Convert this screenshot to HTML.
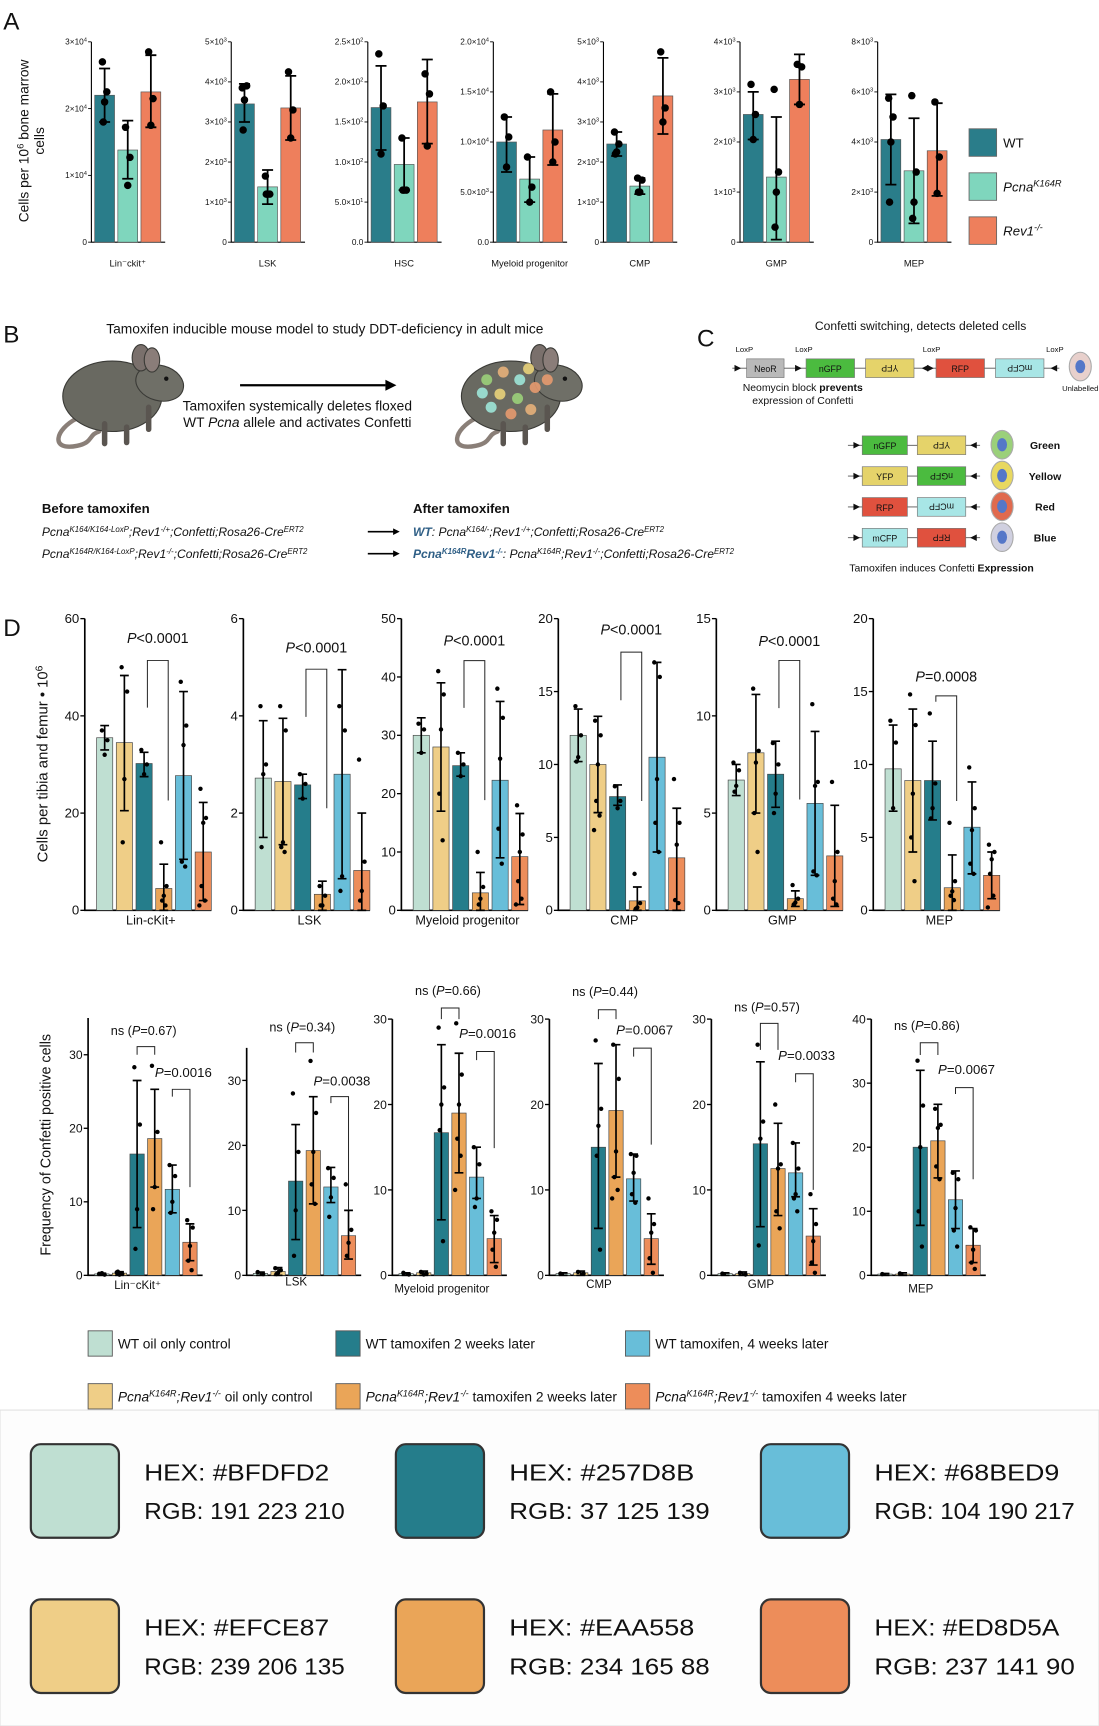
<!DOCTYPE html>
<html><head><meta charset="utf-8">
<style>
html,body{margin:0;padding:0;background:#fff;}
svg{display:block;}
text{font-family:"Liberation Sans Narrow","Liberation Sans",sans-serif;fill:#111;}
.pal{font-family:"Liberation Sans",sans-serif;}
</style></head>
<body>
<svg id="fig" xmlns="http://www.w3.org/2000/svg" width="1099" height="1726" viewBox="0 0 998 1568" preserveAspectRatio="none">
<rect x="0" y="0" width="998" height="1568" fill="#fff"/>
<rect x="0" y="1281" width="998" height="287" fill="#fdfdfd" stroke="#e2e2e2" stroke-width="1"/>
</svg>
<script>
// ===================== DATA =====================
// Panel A
const aCats=['Lin\u207Bckit\u207A','LSK','HSC','Myeloid progenitor','CMP','GMP','MEP'];
const aMax=[30000,5000,250,20000,5000,4000,8000];
const aTicks=[[0,10000,20000,30000],[0,1000,2000,3000,4000,5000],[0,50,100,150,200,250],[0,5000,10000,15000,20000],[0,1000,2000,3000,4000,5000],[0,1000,2000,3000,4000],[0,2000,4000,6000,8000]];
const aTickLabels=[['0','1\u00D710^4','2\u00D710^4','3\u00D710^4'],['0','1\u00D710^3','2\u00D710^3','3\u00D710^3','4\u00D710^3','5\u00D710^3'],['0.0','5.0\u00D710^1','1.0\u00D710^2','1.5\u00D710^2','2.0\u00D710^2','2.5\u00D710^2'],['0.0','5.0\u00D710^3','1.0\u00D710^4','1.5\u00D710^4','2.0\u00D710^4'],['0','1\u00D710^3','2\u00D710^3','3\u00D710^3','4\u00D710^3','5\u00D710^3'],['0','1\u00D710^3','2\u00D710^3','3\u00D710^3','4\u00D710^3'],['0','2\u00D710^3','4\u00D710^3','6\u00D710^3','8\u00D710^3']];
const aWT=[22000,3450,168,10000,2450,2550,4100];
const aWTlo=[18000,3000,115,7000,2150,2050,2300];
const aWThi=[26000,3950,220,12500,2750,3000,5900];
const aPcna=[13800,1380,97,6300,1400,1300,2850];
const aPcnaLo=[9500,950,65,4000,1200,50,750];
const aPcnaHi=[18200,1800,130,8500,1600,2500,4950];
const aRev=[22500,3350,175,11200,3650,3250,3650];
const aRevLo=[17200,2550,123,7700,2700,2750,1850];
const aRevHi=[28000,4150,228,14800,4600,3750,5550];
const aWTpts=[[27000,22500,21000,18000],[3850,3900,3550,2800],[235,170,110],[12500,10500,7500],[2750,2450,2250,2200],[3150,2550,2050],[5750,5000,4000,1600]];
const aPcnaPts=[[17200,12700,8500],[1650,1200,1200,1200],[130,65,65,65],[8500,5500,4000],[1600,1550,1250,1250],[3050,1400,1000,300],[5850,2800,1600,950]];
const aRevPts=[[28500,21500,17500],[4250,3300,2600],[210,185,120],[15000,10000,8000],[4750,3350,3000],[3550,3500,2750],[5600,3400,1950]];

// Panel D top (absolute counts)
const dCats=['Lin-cKit+','LSK','Myeloid progenitor','CMP','GMP','MEP'];
const dTopMax=[60,6,50,20,15,20];
const dTopTicks=[[0,20,40,60],[0,2,4,6],[0,10,20,30,40,50],[0,5,10,15,20],[0,5,10,15],[0,5,10,15,20]];
const dTopMeans=[[35.5,34.5,30.2,4.5,27.7,12],[2.72,2.65,2.58,0.33,2.8,0.82],[30,28,24.8,3,22.3,9.2],[12,10,7.8,0.65,10.5,3.6],[6.7,8.1,7,0.6,5.5,2.8],[9.7,8.9,8.9,1.55,5.7,2.4]];
const dTopLo=[[33,20.5,27.5,0,10.5,2],[1.5,1.35,2.3,0,0.65,0],[27,17,23,0,9,1],[10.2,6.7,7.2,0,4,0],[5.9,5,5.3,0.2,1.8,0.2],[6.8,4,6.2,0,2.5,0.8]];
const dTopHi=[[38,48.3,32.5,9.5,45,22.2],[3.9,3.95,2.8,0.6,4.95,2],[33,39,27,6.5,35.8,16.6],[13.8,13.3,8.6,1.6,17,7],[7.5,11.1,8.7,1.0,9.2,5.4],[12.7,13.8,11.6,3.8,8.8,4]];
const dTopPts=[
 [[37,35,32],[50,45,27,14],[33,30,28],[14,5,3,2,1],[47,38,34,10,9],[25,19,18,5,2,1]],
 [[4.2,3,2.8,1.3],[4.2,3.7,1.4,1.3,1.2],[2.8,2.6,2.3],[0.5,0.3,0.1,0.1],[4.2,3.7,0.7,0.4],[3.1,1.0,0.4,0.2]],
 [[32,31,27],[41,37,31,20,12],[27,25,23],[10,4,2,1],[38,33,26,14,8],[18,13,10,5,2,1]],
 [[14,12,10.5,10.2],[13,12,10,7.5,6.5,5.5],[8.5,7.5,7],[2.5,0.5,0.2,0.1],[17,16,9,6,4],[9,6,4.5,0.7,0.5]],
 [[7.6,7.2,6.4,6.1],[11.4,8.2,7.6,5,3],[8.6,7.5,6,5],[1.3,0.6,0.4,0.3],[10.6,6.6,6.4,2,1.8],[6.6,3,1.5,0.6,0.3]],
 [[13,11.5,7],[14.8,12.7,8,5,2],[13.5,8.7,7,6.3],[6,2,1.3,1,0.7],[9.8,7,5.5,3.2,2.5],[4.5,4,3.5,2.5,1,0.2]]];
const dTopPLabel=['<0.0001','<0.0001','<0.0001','<0.0001','<0.0001','=0.0008'];
const dTopBrTop=[51.4,4.96,42.8,17.7,12.85,14.7];
const dTopBrLeft=[41.7,3.98,34.7,14.4,10.4,14.3];
const dTopBrRight=[22.6,2.1,18.9,7.5,5.7,7.5];
const dTopLabelVal=[55,5.3,45.4,18.9,13.6,15.7];

// Panel D bottom (frequency of confetti positive cells)
const dBotMax=[35,35,30,30,30,40];
const dBotTicks=[[0,10,20,30],[0,10,20,30],[0,10,20,30],[0,10,20,30],[0,10,20,30],[0,10,20,30,40]];
const dBotCats=['Lin\u207BcKit\u207A','LSK','Myeloid progenitor','CMP','GMP','MEP'];
const dBotMeans=[[0.2,0.3,16.5,18.6,11.7,4.5],[0.3,0.6,14.5,19.2,13.6,6.1],[0.2,0.3,16.7,19,11.5,4.3],[0.2,0.3,15,19.3,11.3,4.3],[0.2,0.2,15.4,12.5,12,4.6],[0.2,0.2,20,21,11.8,4.7]];
const dBotLo=[[0,0,6.5,12,8.5,2],[0,0,5.5,11,11.2,2.5],[0,0,6.5,12,9,1.5],[0,0,5.5,11.5,8.7,1.3],[0,0,5.7,7,9.2,1.2],[0,0,7.8,15.2,7.3,2]];
const dBotHi=[[0.3,0.5,26.5,25.3,15,7],[0.5,1.2,23.2,27.5,16.6,10],[0.3,0.5,27,26,15,7],[0.3,0.5,24.8,27,14.2,7.2],[0.3,0.4,25,17.8,15.5,7.8],[0.3,0.4,32,26.7,16.3,7.3]];
const dBotPts=[
 [[0.2,0.1,0.3],[0.4,0.2,0.1,0.5],[28.3,20.5,9,3.6],[28.5,19.5,12,9],[15,13.5,10,8.5],[7.5,6.5,4,2,0.7]],
 [[0.5,0.2],[1.1,0.8,0.4,0.2],[28,19,10,3],[33,25,19,14,11],[16.5,15,12,9],[14,7,5,3]],
 [[0.3,0.1],[0.4,0.2,0.1],[29,22,20,17,4],[29.5,23.5,20,16,14,10],[15,13,9,8],[7.5,6.5,5,3,1]],
 [[0.2],[0.4,0.2],[27.5,19.5,17.5,14,3],[27,23,14.5,11.5,10,9],[14.2,14,12,9.5,8.5],[9,6,5,2,0.3]],
 [[0.2],[0.3,0.1],[27,18,16,3.5],[20,13,12.5,7.5,5.5],[15.5,12.5,9.5,9,7.5],[9.5,6,4,1.5,0.3]],
 [[0.2],[0.3],[33.5,26.5,20,10,4.5],[26,23.5,23,17,15],[16,15,10.5,7,4.5],[7.5,7,4,2,1]]];
const dBotNsLabel=['0.67','0.34','0.66','0.44','0.57','0.86'];
const dBotNsTop=[31.1,35.8,31.3,31.1,29.5,36.3];
const dBotNsLeg=[30,34.3,30,30,26.4,34.4];
const dBotNsLabelVal=[32.7,37.5,32.8,32.7,30.9,38.3];
const dBotPLabel=['0.0016','0.0038','0.0016','0.0067','0.0033','0.0067'];
const dBotPTop=[25.3,27.5,26.2,26.6,23.6,29.3];
const dBotPRight=[12,10.1,14.9,15.3,10,15];
const dBotPLabelVal=[27,29.2,27.8,28.2,25.2,31.4];

// ===================== STYLE / LAYOUT =====================
const NS='http://www.w3.org/2000/svg';
const svg=document.getElementById('fig');
function mk(tag,attrs,parent){const e=document.createElementNS(NS,tag);for(const k in attrs)e.setAttribute(k,attrs[k]);(parent||svg).appendChild(e);return e;}
function txt(x,y,s,size,parent,extra){const t=mk('text',Object.assign({x:x,y:y,'font-size':size},extra||{}),parent);t.textContent=s;return t;}
function ts(parent,s,extra){const t=mk('tspan',extra||{},parent);t.textContent=s;return t;}
function supLabel(t,str){const p=str.split('^');ts(t,p[0]);if(p[1]!==undefined)ts(t,p[1],{'baseline-shift':'super','font-size':'70%'});}
const dColors=['#BFDFD2','#EFCE87','#257D8B','#EAA558','#68BED9','#ED8D5A'];
const jit=[-2.5,2.5,0,-1.5,1.5,-3.5,3.5];

// ---------- Panel A ----------
const gA=mk('g',{});


let t=txt(3,27,'A',22,gA);


t=mk('text',{x:0,y:0,'font-size':12.5,'text-anchor':'middle',transform:'translate(26,128) rotate(-90)',style:'font-family:Liberation Sans,sans-serif'},gA);
ts(t,'Cells per 10');ts(t,'6',{'baseline-shift':'super','font-size':'70%'});ts(t,' bone marrow');


t=mk('text',{x:0,y:0,'font-size':12.5,'text-anchor':'middle',transform:'translate(40,128) rotate(-90)',style:'font-family:Liberation Sans,sans-serif'},gA);
ts(t,'cells');


const aAxisX=[83,210,334,448,548,672,797];
const aTop=38,aBase=220;
const aCol=['#2a7d8a','#7fd6bd','#ee7f5c'];
for(let c=0;c<aCats.length;c++){
  const g=mk('g',{},gA);
  
  
  const X=aAxisX[c];
  const y=v=>aBase-(v/aMax[c])*(aBase-aTop);
  const ax=mk('path',{d:`M${X},${aTop}V${aBase}H${X+67}`,fill:'none',stroke:'#000','stroke-width':1},g);
  
  
  aTicks[c].forEach((v,i)=>{
    mk('line',{x1:X-3,x2:X,y1:y(v),y2:y(v),stroke:'#000','stroke-width':0.8},g);
    const tl=txt(X-4,y(v)+2.5,'',7.5,g,{'text-anchor':'end'});
    supLabel(tl,aTickLabels[c][i]);
    
    
  });
  const series=[[aWT,aWTlo,aWThi,aWTpts],[aPcna,aPcnaLo,aPcnaHi,aPcnaPts],[aRev,aRevLo,aRevHi,aRevPts]];
  series.forEach((s,k)=>{
    const bx=X+3+k*21,bw=18,cx=bx+bw/2;
    const b=mk('rect',{x:bx,y:y(s[0][c]),width:bw,height:aBase-y(s[0][c]),fill:aCol[k],stroke:'#555','stroke-width':0.6},g);
    
    
    mk('path',{d:`M${cx},${y(s[1][c])}V${y(s[2][c])}M${cx-5},${y(s[1][c])}H${cx+5}M${cx-5},${y(s[2][c])}H${cx+5}`,stroke:'#000','stroke-width':1.6,fill:'none'},g);
    s[3][c].forEach((p,i)=>{
      const d=mk('circle',{cx:cx+jit[i]*0.8,cy:y(p),r:3.4,fill:'#000'},g);
      
      
    });
  });
  const cl=txt(X+33,242,'',8.5,g,{'text-anchor':'middle'});
  ts(cl,aCats[c]);
  
  
}
// Panel A legend
const aLeg=[['WT',''],['Pcna','K164R'],['Rev1','-/-']];
aLeg.forEach((l,i)=>{
  const r=mk('rect',{x:880,y:117+i*40,width:25,height:25,fill:aCol[i],stroke:'#666','stroke-width':0.8},gA);
  
  
  const lt=txt(911,134+i*40,'',12,gA,i>0?{'font-style':'italic'}:{});
  ts(lt,l[0]);if(l[1])ts(lt,l[1],{'baseline-shift':'super','font-size':'70%'});
  
  
});

// ---------- Panel B ----------
const gB=mk('g',{});


t=txt(3,311,'B',22,gB);


t=txt(295,303,'Tamoxifen inducible mouse model to study DDT-deficiency in adult mice',12.5,gB,{'text-anchor':'middle'});


function mouse(ox,spots,name){
  const g=mk('g',{transform:`translate(${ox},0)`},gB);
  
  
  mk('path',{d:'M30,380 C10,390 5,410 30,405 C45,402 40,395 50,392',fill:'none',stroke:'#8a7f78','stroke-width':4,'stroke-linecap':'round'},g);
  mk('ellipse',{cx:62,cy:360,rx:45,ry:32,fill:'#696961',stroke:'#3a3a36','stroke-width':1},g);
  mk('ellipse',{cx:105,cy:348,rx:22,ry:16,fill:'#6f6f67',stroke:'#3a3a36','stroke-width':1,transform:'rotate(15 105 348)'},g);
  mk('ellipse',{cx:88,cy:325,rx:8,ry:12,fill:'#7a706c',stroke:'#3a3a36','stroke-width':1},g);
  mk('ellipse',{cx:98,cy:327,rx:7,ry:11,fill:'#8a7d79',stroke:'#3a3a36','stroke-width':1},g);
  mk('circle',{cx:111,cy:344,r:2,fill:'#111'},g);
  mk('path',{d:'M55,385 v18 M75,388 v14 M95,370 v20',stroke:'#5a5550','stroke-width':5,'stroke-linecap':'round'},g);
  spots.forEach(s=>mk('circle',{cx:s[0],cy:s[1],r:5,fill:s[2],opacity:0.9},g));
}
mouse(40,[],'mouse-before');
const spc=['#9bd07a','#e5b07a','#9de6d8','#e8d27a','#e59a6f'];
const spotsArr=[[40,345,spc[0]],[55,338,spc[1]],[70,345,spc[2]],[52,358,spc[3]],[68,362,spc[0]],[84,352,spc[4]],[44,370,spc[2]],[62,376,spc[4]],[80,372,spc[1]],[95,345,spc[4]],[36,357,spc[2]],[78,335,spc[3]]];
mouse(402,spotsArr,'mouse-after');
mk('path',{d:'M218,350H350',stroke:'#000','stroke-width':2},gB);
mk('path',{d:'M350,345L360,350L350,355Z',fill:'#000'},gB);
t=txt(270,373,'Tamoxifen systemically deletes floxed',12.5,gB,{'text-anchor':'middle'});


t=txt(270,388,'',12.5,gB,{'text-anchor':'middle'});
ts(t,'WT ');ts(t,'Pcna',{'font-style':'italic'});ts(t,' allele and activates Confetti');


function rich(x,y,size,segs,parent){
  const tt=txt(x,y,'',size,parent,{'font-style':'italic'});
  segs.forEach(s=>{const a={};if(s[1].includes('s')){a['baseline-shift']='super';a['font-size']='65%';}if(s[1].includes('b'))a['font-weight']='bold';if(s[1].includes('c'))a['fill']='#2f5f86';ts(tt,s[0],a);});
  return tt;
}
t=txt(38,466,'Before tamoxifen',12,gB,{'font-weight':'bold'});


t=txt(375,466,'After tamoxifen',12,gB,{'font-weight':'bold'});


t=rich(38,487,11,[['Pcna',''],['K164/K164-LoxP','s'],[';Rev1',''],['-/+','s'],[';Confetti;Rosa26-Cre',''],['ERT2','s']],gB);


t=rich(38,507,11,[['Pcna',''],['K164R/K164-LoxP','s'],[';Rev1',''],['-/-','s'],[';Confetti;Rosa26-Cre',''],['ERT2','s']],gB);


t=rich(375,487,11,[['WT','bc'],[': Pcna',''],['K164/-','s'],[';Rev1',''],['-/+','s'],[';Confetti;Rosa26-Cre',''],['ERT2','s']],gB);


t=rich(375,507,11,[['Pcna','bc'],['K164R','sbc'],['Rev1','bc'],['-/-','sbc'],[': Pcna',''],['K164R','s'],[';Rev1',''],['-/-','s'],[';Confetti;Rosa26-Cre',''],['ERT2','s']],gB);


[483,503].forEach(yy=>{mk('path',{d:`M334,${yy}H358`,stroke:'#000','stroke-width':1.5},gB);mk('path',{d:`M357,${yy-3}L363,${yy}L357,${yy+3}Z`,fill:'#000'},gB);});

// ---------- Panel C ----------
const gC=mk('g',{});


t=txt(633,315,'C',22,gC);


t=txt(836,300,'Confetti switching, detects deleted cells',11,gC,{'text-anchor':'middle'});


function gbox(x,y,w,label,fill,flip,name){
  const r=mk('rect',{x:x,y:y,width:w,height:17,fill:fill,stroke:'#777','stroke-width':0.6},gC);
  
  
  const tt=txt(0,0,label,8,gC,{'text-anchor':'middle',transform:flip?`translate(${x+w/2},${y+8.5}) rotate(180) translate(0,3)`:`translate(${x+w/2},${y+12})`});
  return tt;
}
const cy0=326;
gbox(678,cy0,34,'NeoR','#b9b9b9',false,'neor-box');
gbox(732,cy0,44,'nGFP','#4bbb3f',false,'ngfp-box');
gbox(786,cy0,44,'YFP','#e5d36a',true,'yfp-box');
gbox(850,cy0,44,'RFP','#e0513e',false,'rfp-box');
gbox(904,cy0,44,'mCFP','#a8e6e6',true,'mcfp-box');
mk('path',{d:`M712,${cy0+8.5}H732M776,${cy0+8.5}H786M830,${cy0+8.5}H850M894,${cy0+8.5}H904M665,${cy0+8.5}H678M948,${cy0+8.5}H962`,stroke:'#555','stroke-width':0.8},gC);
[[670,1],[725,1],[840,-1],[845,1],[957,-1]].forEach(a=>mk('path',{d:`M${a[0]-3*a[1]},${cy0+5.5}L${a[0]+3*a[1]},${cy0+8.5}L${a[0]-3*a[1]},${cy0+11.5}Z`,fill:'#111'},gC));
[['LoxP',668,320],['LoxP',722,320],['LoxP',838,320],['LoxP',950,320]].forEach(l=>txt(l[1],l[2],l[0],7,gC));
mk('ellipse',{cx:981,cy:333,rx:10,ry:13,fill:'#e8d0cc',stroke:'#aaa'},gC);
mk('ellipse',{cx:981,cy:333,rx:4.5,ry:6,fill:'#5577c8'},gC);
txt(981,355,'Unlabelled',7,gC,{'text-anchor':'middle'});
t=txt(729,355,'',9.5,gC,{'text-anchor':'middle'});
ts(t,'Neomycin block ');ts(t,'prevents',{'font-weight':'bold'});


txt(729,367,'expression of Confetti',9.5,gC,{'text-anchor':'middle'});
const cRows=[['nGFP','#4bbb3f','YFP','#e5d36a','Green','#2e8b22','#9bd07a'],['YFP','#e5d36a','nGFP','#4bbb3f','Yellow','#e8e070','#e8d860'],['RFP','#e0513e','mCFP','#a8e6e6','Red','#d83a2a','#e06a4e'],['mCFP','#a8e6e6','RFP','#e0513e','Blue','#aee6ee','#d0d0e0']];
cRows.forEach((r,i)=>{
  const yy=396+i*28;
  gbox(783,yy,41,r[0],r[1],false,'confetti-box');
  gbox(833,yy,44,r[2],r[3],true,'confetti-box-inverted');
  mk('path',{d:`M770,${yy+8.5}H783M824,${yy+8.5}H833M877,${yy+8.5}H890`,stroke:'#555','stroke-width':0.8},gC);
  mk('path',{d:`M775,${yy+5.5}L781,${yy+8.5}L775,${yy+11.5}Z M887,${yy+5.5}L881,${yy+8.5}L887,${yy+11.5}Z`,fill:'#111'},gC);
  mk('ellipse',{cx:910,cy:yy+8,rx:10,ry:13,fill:r[6],stroke:'#aaa'},gC);
  mk('ellipse',{cx:910,cy:yy+8,rx:4.5,ry:6,fill:'#5577c8'},gC);
  const lt=txt(949,yy+12,r[4],9.5,gC,{'text-anchor':'middle','font-weight':'bold',fill:r[5]});
  
  
});
t=txt(855,519,'',9.5,gC,{'text-anchor':'middle'});
ts(t,'Tamoxifen induces Confetti ');ts(t,'Expression',{'font-weight':'bold'});



// ---------- Panel D ----------
const gD=mk('g',{});


t=txt(3,578,'D',22,gD);


t=mk('text',{x:0,y:0,'font-size':13.5,'text-anchor':'middle',transform:'translate(43,694) rotate(-90)',style:'font-family:Liberation Sans,sans-serif'},gD);
ts(t,'Cells per tibia and femur \u2022 10');ts(t,'6',{'baseline-shift':'super','font-size':'70%'});


t=mk('text',{x:0,y:0,'font-size':13,'text-anchor':'middle',transform:'translate(46,1040) rotate(-90)',style:'font-family:Liberation Sans,sans-serif'},gD);
ts(t,'Frequency of Confetti positive cells');



function pText(x,y,size,parent,prefix,rel,val){
  const tt=txt(x,y,'',size,parent,{'text-anchor':'middle'});
  if(prefix)ts(tt,prefix);
  ts(tt,'P',{'font-style':'italic'});ts(tt,rel+val);
  if(prefix)ts(tt,')');
  return tt;
}
function drawD(c,opt){
  const g=mk('g',{},gD);
  
  
  const X=opt.axisX[c],base=opt.base,top=opt.top[c],mx=opt.max[c];
  const y=v=>base-(v/mx)*(base-top);
  const ax=mk('path',{d:`M${X},${top}V${base}H${X+opt.axLen}`,fill:'none',stroke:'#000','stroke-width':1.5},g);
  
  
  opt.ticks[c].forEach(v=>{
    mk('line',{x1:X-4,x2:X,y1:y(v),y2:y(v),stroke:'#000','stroke-width':1.2},g);
    const tl=txt(X-5,y(v)+4,String(v),opt.tickSize,g,{'text-anchor':'end'});
    
    
  });
  const cx=[];
  for(let k=0;k<6;k++){
    const bx=X+opt.off+k*opt.sp, bw=opt.bw, mcx=bx+bw/2; cx.push(mcx);
    const m=opt.means[c][k];
    const b=mk('rect',{x:bx,y:y(m),width:bw,height:Math.max(base-y(m),0),fill:dColors[k],stroke:'#444','stroke-width':0.6},g);
    
    
    const lo=y(opt.lo[c][k]),hi=y(opt.hi[c][k]);
    mk('path',{d:`M${mcx},${lo}V${hi}M${mcx-4},${lo}H${mcx+4}M${mcx-4},${hi}H${mcx+4}`,stroke:'#000','stroke-width':1.5,fill:'none'},g);
    opt.pts[c][k].forEach((p,i)=>{
      const d=mk('circle',{cx:mcx+jit[i],cy:y(p),r:2,fill:'#000'},g);
      
      
    });
  }
  return {g,y,cx};
}
const dTopOpt={name:'d-top-chart',axisX:[77,221,364.5,507,650.5,793],base:827,top:[562,562,562,562,562,562],max:dTopMax,ticks:dTopTicks,means:dTopMeans,lo:dTopLo,hi:dTopHi,pts:dTopPts,off:10.7,sp:17.9,bw:14.7,axLen:115,tickSize:12};
for(let c=0;c<6;c++){
  const r=drawD(c,dTopOpt);
  const l=r.cx[2]+3,rr=r.cx[3]+4;
  const br=mk('path',{d:`M${l},${r.y(dTopBrLeft[c])}V${r.y(dTopBrTop[c])}H${rr}V${r.y(dTopBrRight[c])}`,fill:'none',stroke:'#222','stroke-width':0.9},r.g);
  
  
  const pt=pText((l+rr)/2,r.y(dTopLabelVal[c]),13,r.g,'',dTopPLabel[c][0],dTopPLabel[c].slice(1));
  
  
  const cl=txt(dTopOpt.axisX[c]+60,840,dCats[c],11.5,r.g,{'text-anchor':'middle'});
  
  
}
const dBotOpt={name:'d-bottom-chart',axisX:[80,224,356.3,498.9,646,791.2],base:1158.6,top:[924.8,952,925.8,925.8,925.8,925.8],max:dBotMax,ticks:dBotTicks,means:dBotMeans,lo:dBotLo,hi:dBotHi,pts:dBotPts,off:6,sp:16,bw:13,axLen:104,tickSize:11};
const botLabY=[1171,1168,1174,1170,1170,1174];
for(let c=0;c<6;c++){
  const r=drawD(c,dBotOpt);
  const a=r.cx[2],b=r.cx[3];
  const ns=mk('path',{d:`M${a},${r.y(dBotNsLeg[c])}V${r.y(dBotNsTop[c])}H${b}V${r.y(dBotNsLeg[c])}`,fill:'none',stroke:'#222','stroke-width':0.9},r.g);
  
  
  const nt=pText((a+b)/2-2,r.y(dBotNsLabelVal[c]),11.5,r.g,'ns (','=',dBotNsLabel[c]);
  
  
  const l=r.cx[4],rr=r.cx[5];
  const br=mk('path',{d:`M${l},${r.y(dBotPTop[c]-1)}V${r.y(dBotPTop[c])}H${rr}V${r.y(dBotPRight[c])}`,fill:'none',stroke:'#222','stroke-width':0.9},r.g);
  
  
  const pt=pText((l+rr)/2+2,r.y(dBotPLabelVal[c]),12,r.g,'','=',dBotPLabel[c]);
  
  
  const cl=txt(dBotOpt.axisX[c]+45,botLabY[c],dBotCats[c],10.5,r.g,{'text-anchor':'middle'});
  
  
}
// Panel D legend
const dLeg=[[80,1209,'#BFDFD2',[['WT oil only control','']]],[305,1209,'#257D8B',[['WT tamoxifen 2 weeks later','']]],[568,1209,'#68BED9',[['WT tamoxifen, 4 weeks later','']]],
 [80,1257,'#EFCE87',[['Pcna','i'],['K164R','is'],[';Rev1','i'],['-/-','is'],[' oil only control','']]],
 [305,1257,'#EAA558',[['Pcna','i'],['K164R','is'],[';Rev1','i'],['-/-','is'],[' tamoxifen 2 weeks later','']]],
 [568,1257,'#ED8D5A',[['Pcna','i'],['K164R','is'],[';Rev1','i'],['-/-','is'],[' tamoxifen 4 weeks later','']]]];
dLeg.forEach((L,i)=>{
  const r=mk('rect',{x:L[0],y:L[1],width:22,height:23,fill:L[2],stroke:'#555','stroke-width':0.8},gD);
  
  
  const tt=txt(L[0]+27,L[1]+16,'',12.5,gD);
  L[3].forEach(s=>{const a={};if(s[1].includes('i'))a['font-style']='italic';if(s[1].includes('s')){a['baseline-shift']='super';a['font-size']='65%';}ts(tt,s[0],a);});
  
  
});

// ---------- Palette ----------
const palHex=['#BFDFD2','#257D8B','#68BED9','#EFCE87','#EAA558','#ED8D5A'];
const palRgb=['191 223 210',' 37 125 139','104 190 217','239 206 135','234 165  88','237 141  90'];
const gP=mk('g',{});


palHex.forEach((h,i)=>{
  const col=i%3,row=Math.floor(i/3);
  const x=28+col*331.5,y=1312+row*141;
  const r=mk('rect',{x:x,y:y,width:80,height:85,rx:9,fill:h,stroke:'#333','stroke-width':2},gP);
  
  
  const t1=txt(x+103,y+33,'HEX: '+h,21,gP,{class:'pal',textLength:168,lengthAdjust:'spacingAndGlyphs'});
  
  
  const t2=txt(x+103,y+68,'RGB: '+palRgb[i],21,gP,{class:'pal','xml:space':'preserve',textLength:182,lengthAdjust:'spacingAndGlyphs'});
  
  
});
</script>
</body></html>
